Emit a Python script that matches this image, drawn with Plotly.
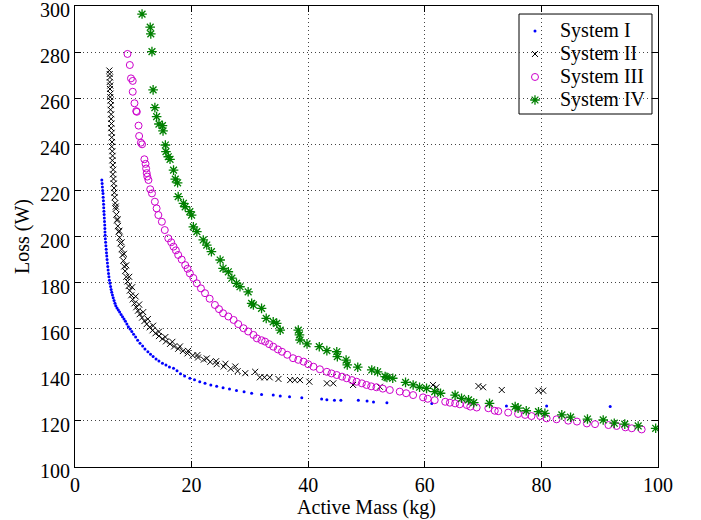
import plotly.graph_objects as go

# ---------------- data ----------------
sys1_x = [4.6, 4.65, 4.7, 4.75, 4.8, 4.83, 4.87, 4.9, 4.93, 4.96, 5.0, 5.03, 5.06, 5.1, 5.12, 5.14, 5.17,
          5.2, 5.25, 5.3, 5.35, 5.4, 5.45, 5.5, 5.56, 5.62, 5.68, 5.75, 5.82, 5.9, 6.0, 6.1, 6.2, 6.3,
          6.42, 6.55, 6.7, 6.85, 7.0, 7.2, 7.43, 7.65, 7.9, 8.15, 8.4, 8.65, 8.9, 9.15, 9.45, 9.75,
          10.05, 10.4, 10.75, 11.15, 11.6, 12.0, 12.5, 12.95, 13.4, 13.9, 14.4, 15.0, 15.6, 16.2, 16.9,
          17.5, 18.1, 18.8, 19.7, 20.5, 21.4, 22.3, 23.3, 24.3, 25.4, 26.5, 27.7, 29.0, 30.3, 32.0,
          34.0, 35.2, 36.8, 38.9, 42.3, 43.2, 44.5, 45.6, 48.6, 50.1, 51.2, 53.5, 61.2, 74.0, 80.9, 91.8]
sys1_y = [224.5, 223, 221.5, 220, 218.7, 217, 215.5, 214, 212.5, 211, 209.5, 208, 206.5, 205, 203.5, 202,
          200.5, 199, 197.5, 196, 194.5, 193, 191.5, 190, 188.5, 187, 185.5, 184, 182.5, 181, 179.7,
          178.3, 177, 175.8, 174.6, 173.4, 172.2, 171, 170, 169, 168.1, 167.2, 166.2, 165.2, 164.2,
          163.2, 162, 160.9, 159.9, 158.8, 157.6, 156.4, 155, 153.7, 152.5, 151.2, 150, 148.9, 147.9,
          146.9, 146, 145, 144.2, 143.4, 142.8, 141.8, 140.5, 139.5, 138.5, 137.8, 137, 136.3, 135.6,
          135, 134.4, 133.8, 133.2, 132.6, 132, 131.5, 131.2, 130.8, 130.5, 130, 129.5, 129.2, 129, 129,
          129, 128.6, 128.2, 127.9, 127.6, 126.5, 126.5, 126.2]

sys2_x = [5.9, 5.95, 6.0, 5.95, 6.05, 6.0, 6.1, 6.05, 6.1, 6.15, 6.1, 6.2, 6.2, 6.25, 6.2, 6.3, 6.3, 6.35,
          6.3, 6.4, 6.45, 6.4, 6.5, 6.55, 6.5, 6.6, 6.65, 6.7, 6.75, 6.8, 6.9, 7.0, 7.1, 7.2, 7.35, 7.5,
          7.65, 7.8, 8.0, 8.15, 8.3, 8.45, 8.6, 8.8, 9.0, 9.2, 9.4, 9.65, 9.9, 10.2, 10.5, 10.8, 11.1,
          11.5, 11.9, 12.3, 12.8, 13.3, 13.8, 14.4, 15.0, 15.6, 16.3, 17.0, 17.7, 18.5, 19.3, 20.2,
          21.1, 22.1, 23.2, 24.3, 25.5, 26.7, 27.9, 29.2,
          7.0, 7.3, 7.6, 8.0, 8.4, 8.8, 9.3, 9.8, 10.4, 11.0, 11.7, 12.5, 13.4, 14.4, 15.5, 16.7,
          18.0, 19.4, 21.0, 22.6, 24.2, 25.8, 27.5,
          30.9, 31.7, 32.5, 33.4, 34.9, 36.9, 37.7, 38.6, 40.2, 43.2, 44.3, 47.7, 52.3, 61.4, 62.0,
          69.2, 70.0, 73.2, 79.5, 80.3]
sys2_y = [272, 270.5, 269, 267, 265.5, 264, 262, 260.5, 259, 257, 255, 253, 251, 249, 247, 245, 243, 241,
          239, 237, 235, 233, 231, 229, 227, 225, 223, 221, 219, 217, 214.5, 212, 209.5, 207, 204.5, 202,
          199.5, 197, 194.5, 192, 189.5, 187, 185, 182.5, 180.5, 178.5, 176.5, 174.5, 172.7, 171, 169.3,
          167.8, 166.3, 164.8, 163.3, 162, 160.6, 159.3, 158, 156.8, 155.6, 154.5, 153.4, 152.3, 151.3,
          150.3, 149.3, 148.4, 147.5, 146.6, 145.6, 144.6, 143.6, 142.6, 141.6, 140.7,
          213, 207.5, 202.5, 197.5, 192.5, 187.5, 182.5, 178, 174, 170.5, 167.2, 164.2, 161.3, 158.7,
          156.4, 154.3, 152.3, 150.4, 148.6, 147.1, 145.9, 144.8, 143.6,
          141.3, 138.9, 138.9, 138.9, 138.2, 137.7, 137.7, 137.7, 137.0, 136.3, 136.3, 135.6, 134.8,
          135.6, 134.6, 135.1, 134.6, 133.4, 133.1, 133.1]

sys3_x = [9.0, 9.4, 9.6, 9.9, 9.9, 10.2, 10.5, 10.6, 10.9, 11.0, 11.3, 11.5, 11.9, 12.1, 12.2, 12.3, 12.4,
          12.6, 12.9, 13.2, 13.7, 14.0, 14.3, 14.9, 15.4, 16.0, 16.5, 16.9, 17.3, 17.7, 18.3, 18.9, 19.3,
          19.7, 20.3, 20.9, 21.6, 22.3, 23.1, 24.0, 24.7, 25.4, 26.3, 27.2, 28.0, 28.9, 29.7, 30.6, 31.2,
          32.0, 32.6, 33.3, 34.0, 34.8, 35.5, 36.4, 37.4, 38.3, 39.2, 40.0, 40.9, 42.0, 43.2, 44.0, 44.9,
          45.8, 46.6, 47.5, 48.3, 49.2, 50.0, 50.8, 51.7, 52.8, 54.0, 55.7, 56.8, 58.0, 59.7, 60.5, 61.7,
          63.5, 64.3, 65.2, 66.0, 67.2, 67.8, 68.9, 70.9, 72.0, 72.6, 74.3, 76.0, 77.2, 78.3, 79.8, 80.9,
          82.6, 84.6, 86.1, 87.8, 89.2, 91.5, 92.9, 94.4, 95.5, 97.2]
sys3_y = [279.2, 274.4, 268.6, 267.5, 262.8, 257.8, 254.4, 254.1, 248.1, 243.6, 240.7, 240.0, 233.5, 231.5,
          229.5, 227.5, 226.0, 224.5, 220.5, 218.7, 215.1, 212.2, 209.3, 206.4, 202.8, 199.2, 197.5, 195.6,
          194.0, 192.0, 190.0, 187.6, 186.0, 184.0, 182.0, 179.7, 177.5, 175.4, 173.0, 170.3, 168.5, 166.7,
          165.3, 163.8, 162.0, 160.2, 158.8, 157.3, 155.8, 155.0, 154.4, 153.3, 152.2, 151.0, 150.0, 148.7,
          147.2, 146.5, 145.7, 144.6, 143.5, 142.4, 141.3, 140.6, 139.9, 139.2, 138.5, 137.7, 137.0, 136.3,
          135.6, 135.0, 134.6, 134.0, 133.4, 132.7, 132.0, 131.2, 130.2, 129.6, 129.0, 128.3, 127.9, 127.6,
          127.2, 126.9, 126.2, 125.8, 125.5, 124.4, 124.2, 123.6, 123.0, 122.6, 122.1, 122.1, 121.1, 120.7,
          120.1, 119.7, 118.9, 118.6, 118.2, 117.8, 117.2, 116.8, 116.3]

sys4_x = [11.5, 12.9, 13.0, 13.2, 13.4, 13.7, 14.0, 14.4, 15.0, 15.1, 15.5, 15.6, 16.0, 16.3, 16.9, 17.2,
          17.6, 17.7, 18.6, 18.9, 19.7, 20.0, 20.3, 20.9, 22.0, 22.6, 23.4, 24.9, 25.4, 26.3, 26.9, 27.7,
          28.3, 29.7, 30.3, 30.6, 32.0, 32.8, 34.0, 34.6, 35.2, 38.3, 38.5, 38.6, 39.8, 41.9, 43.2, 44.9,
          45.0, 46.5, 46.7, 48.5, 50.9, 51.9, 53.2, 53.5, 54.5, 56.7, 58.0, 59.1, 60.3, 61.7, 62.7, 65.2,
          66.3, 67.5, 68.4, 71.1, 75.5, 76.0, 77.4, 79.5, 80.6, 83.5, 85.0, 87.9, 90.6, 92.5, 94.3, 96.6, 99.6]
sys4_y = [296.5, 290.8, 287.9, 280.2, 263.6, 255.9, 252.0, 248.8, 248.1, 245.8, 239.7, 236.8, 234.6, 233.5,
          228.8, 224.9, 223.3, 217.3, 214.4, 212.9, 210.8, 209.3, 204.2, 202.1, 198.5, 196.3, 193.4, 189.8,
          186.2, 184.7, 181.9, 179.7, 178.2, 176.0, 171.0, 170.3, 168.8, 164.5, 163.0, 162.3, 159.4, 159.4,
          157.3, 155.1, 153.4, 152.2, 150.5, 150.0, 147.9, 146.4, 144.3, 143.3, 142.1, 141.3, 139.2, 138.9,
          138.5, 136.7, 135.6, 134.6, 134.1, 132.7, 132.0, 131.2, 129.8, 129.1, 127.9, 127.6, 126.2, 125.5,
          124.4, 124.0, 123.3, 122.6, 121.6, 120.8, 120.4, 119.0, 118.6, 117.8, 116.8]

names = ["System I", "System II", "System III", "System IV"]
x_ticks = [0, 20, 40, 60, 80, 100]
y_ticks = [100, 120, 140, 160, 180, 200, 220, 240, 260, 280, 300]

FONT = "Liberation Serif"

styles = [
    dict(symbol="circle", size=3, color="#0000ff", line=dict(width=0)),
    dict(symbol="x-thin", size=6, color="#000000", line=dict(width=1, color="#000000")),
    dict(symbol="circle-open", size=7, color="#cc00cc", line=dict(width=1, color="#cc00cc")),
    dict(symbol="asterisk-open", size=8, color="#008000", line=dict(width=1.3, color="#008000")),
]
series = [(sys1_x, sys1_y), (sys2_x, sys2_y), (sys3_x, sys3_y), (sys4_x, sys4_y)]

fig = go.Figure()
for (sx, sy), st, nm in zip(series, styles, names):
    fig.add_trace(go.Scatter(x=sx, y=sy, mode="markers", name=nm, marker=st, showlegend=False))

# ---- legend drawn in the MATLAB style (compact rows) ----
leg_x0, leg_x1, leg_y0, leg_y1 = 0.7616, 0.9897, 0.7657, 0.9826
row_y = [0.9458, 0.8959, 0.8460, 0.7961]
sym_x = 0.789
txt_x = 0.8285
fig.add_shape(type="rect", xref="paper", yref="paper", x0=leg_x0, x1=leg_x1, y0=leg_y0, y1=leg_y1,
              line=dict(color="black", width=1), fillcolor="white", layer="between")
for st, nm, ry in zip(styles, names, row_y):
    fig.add_trace(go.Scatter(x=[sym_x], y=[ry], xaxis="x2", yaxis="y2", mode="markers",
                             marker=st, showlegend=False, hoverinfo="skip"))
    fig.add_annotation(x=txt_x, y=ry, xref="paper", yref="paper", text=nm, showarrow=False,
                       xanchor="left", yanchor="middle", font=dict(family=FONT, size=20, color="black"))

axis_common = dict(showline=True, linecolor="black", linewidth=1, mirror="ticks",
                   ticks="inside", ticklen=6, tickcolor="black",
                   showgrid=True, gridcolor="#444444", griddash="1px,3px", gridwidth=1,
                   zeroline=False, ticklabeloverflow="allow", automargin=False,
                   tickfont=dict(family=FONT, size=20, color="black"))

fig.update_xaxes(range=[0, 100], tickvals=x_ticks,
                 title=dict(text="Active Mass (kg)", font=dict(family=FONT, size=20, color="black"),
                            standoff=0),
                 **axis_common)
fig.update_yaxes(range=[100, 300], tickvals=y_ticks, ticklabelshift=4,
                 title=dict(text="Loss (W)", font=dict(family=FONT, size=20, color="black"),
                            standoff=5),
                 **axis_common)

fig.update_layout(
    width=701, height=520,
    margin=dict(l=75, r=43, t=6, b=53, autoexpand=False),
    paper_bgcolor="white", plot_bgcolor="white",
    font=dict(family=FONT, size=20, color="black"),
    showlegend=False,
    xaxis2=dict(overlaying="x", range=[0, 1], visible=False, fixedrange=True),
    yaxis2=dict(overlaying="y", range=[0, 1], visible=False, fixedrange=True),
)

fig.write_html("out.html", config={"displayModeBar": False},
               post_script="document.body.style.margin='0';")
